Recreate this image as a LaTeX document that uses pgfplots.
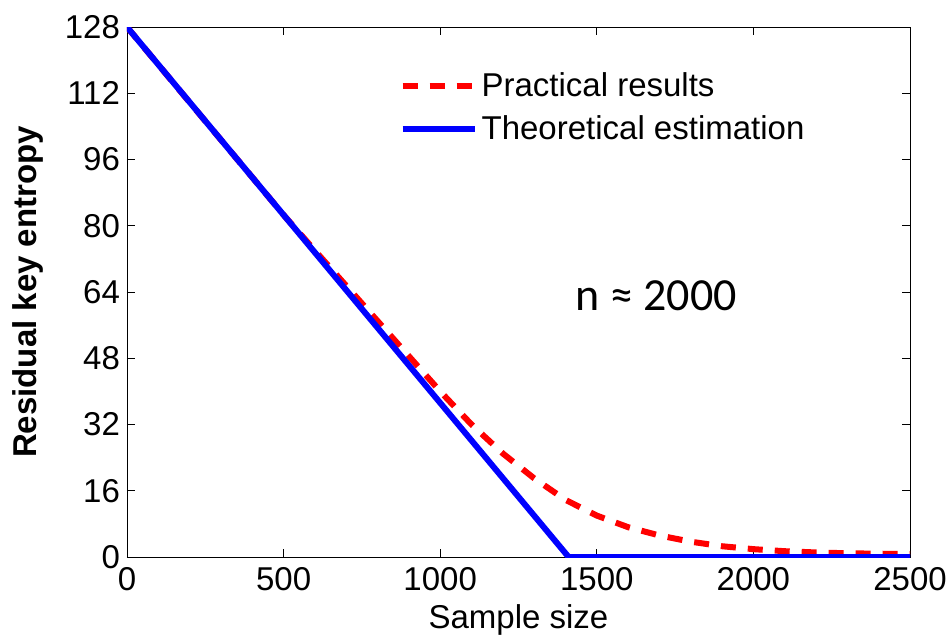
\documentclass[border=0pt]{standalone}
\usepackage{fontspec}
\setmainfont{Liberation Sans}
\newfontfamily\calib{Carlito}
\usepackage{pgfplots}
\pgfplotsset{compat=1.18}

\begin{document}
\begin{tikzpicture}
  \begin{axis}[
    width=391.5pt, height=265pt,
    scale only axis,
    xmin=0, xmax=2500, ymin=0, ymax=128,
    xtick={0,500,...,2500},
    ytick={0,16,...,128},
    tick align=inside,
    major tick length=4pt,
    tick style={black, thin},
    axis line style={black, thin},
    /pgf/number format/assume math mode=true,
    /pgf/number format/1000 sep={},
    tick label style={font=\fontsize{16.5}{18}\selectfont},
    xticklabel style={yshift=-1.5pt},
    xlabel={Sample size},
    ylabel={\bfseries Residual key entropy},
    label style={font=\fontsize{16.5}{18}\selectfont},
    xlabel style={yshift=0pt},
    ylabel style={yshift=4pt},
    legend style={draw=none, fill=none, at={(0.34,0.93)}, anchor=north west,
      font=\fontsize{16.5}{18}\selectfont, row sep=4pt},
    legend cell align=left,
    legend image code/.code={
      \draw[#1] (0cm,0cm) -- (36pt,0cm);
    },
  ]
    % practical results (red dashed)
    \addplot[red, line width=3pt, dash pattern=on 7.5pt off 6pt] coordinates {
      (0,128) (200,109.8) (400,91.7) (500,82.6) (600,74) (700,65.5) (800,57)
      (900,48.5) (1000,40) (1100,32) (1200,25) (1300,19) (1400,13.8)
      (1500,10) (1600,7.2) (1700,5.2) (1800,3.7) (1900,2.6) (2000,1.9)
      (2100,1.4) (2200,1.1) (2300,0.9) (2400,0.8) (2500,0.7)
    };
    \addlegendentry{Practical results}
    % theoretical estimation (blue)
    \addplot[blue, line width=3pt] coordinates {
      (0,128) (1410,0) (2500,0)
    };
    \addlegendentry{Theoretical estimation}
    \node[anchor=west, font=\calib\fontsize{23}{25}\selectfont] at (axis cs:1410,63) {n ≈ 2000};
  \end{axis}
  % page margins as in the reference
  \pgfresetboundingbox
  \path[use as bounding box] ([xshift=-63.5pt,yshift=13.5pt]current axis.north west)
    rectangle ([xshift=18pt,yshift=-40.5pt]current axis.south east);
\end{tikzpicture}
\end{document}
